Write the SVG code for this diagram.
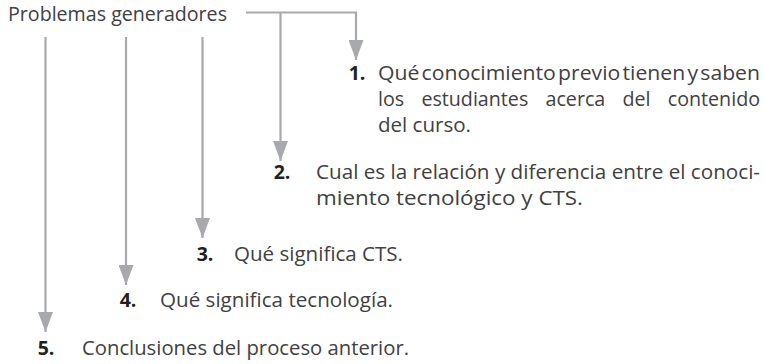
<svg xmlns="http://www.w3.org/2000/svg" width="765" height="364" viewBox="0 0 765 364">
<defs>
<style>
.t{font-family:"Open Sans","Liberation Sans",sans-serif;font-size:19.5px;fill:#414042}
.n{font-family:"Open Sans","Liberation Sans",sans-serif;font-size:19.5px;font-weight:bold;fill:#231f20;text-anchor:middle}
.c{fill:none;stroke:#a7a9ac;stroke-width:2.2}
</style>
<marker id="ah" markerUnits="userSpaceOnUse" markerWidth="20" markerHeight="15" refX="20" refY="7.5" orient="auto">
<path d="M0,0 L20,7.5 L0,15 z" fill="#a7a9ac"/>
</marker>
</defs>
<g id="root">
<text class="t" x="8" y="21" textLength="219" lengthAdjust="spacingAndGlyphs">Problemas generadores</text>
</g>
<g id="connectors">
<path class="c" d="M246 12.5 H356 V60" marker-end="url(#ah)"/>
<path class="c" d="M280.5 12.5 V161" marker-end="url(#ah)"/>
<path class="c" d="M202.5 37 V238" marker-end="url(#ah)"/>
<path class="c" d="M126 37 V285" marker-end="url(#ah)"/>
<path class="c" d="M45.5 37 V332" marker-end="url(#ah)"/>
</g>
<g id="item1">
<text class="n" x="357" y="80">1.</text>
<text class="t" x="378" y="80" textLength="382" lengthAdjust="spacingAndGlyphs" style="word-spacing:-3px">Qué conocimiento previo tienen y saben</text>
<text class="t" x="378" y="106" textLength="382" lengthAdjust="spacingAndGlyphs" style="word-spacing:12px">los estudiantes acerca del contenido</text>
<text class="t" x="378" y="132" textLength="93" lengthAdjust="spacingAndGlyphs">del curso.</text>
</g>
<g id="item2">
<text class="n" x="282" y="179">2.</text>
<text class="t" x="316" y="179" textLength="444" lengthAdjust="spacingAndGlyphs">Cual es la relación y diferencia entre el conoci-</text>
<text class="t" x="316" y="205" textLength="267" lengthAdjust="spacingAndGlyphs">miento tecnológico y CTS.</text>
</g>
<g id="item3">
<text class="n" x="205" y="261">3.</text>
<text class="t" x="234" y="261" textLength="169" lengthAdjust="spacingAndGlyphs">Qué significa CTS.</text>
</g>
<g id="item4">
<text class="n" x="128" y="307">4.</text>
<text class="t" x="160" y="307" textLength="233" lengthAdjust="spacingAndGlyphs">Qué significa tecnología.</text>
</g>
<g id="item5">
<text class="n" x="46" y="355">5.</text>
<text class="t" x="82" y="355" textLength="327" lengthAdjust="spacingAndGlyphs">Conclusiones del proceso anterior.</text>
</g>
</svg>
